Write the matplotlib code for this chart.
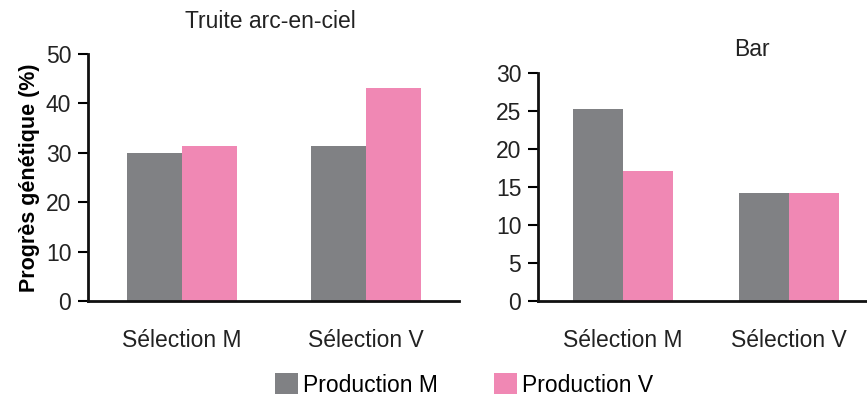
import matplotlib
matplotlib.use("Agg")
import matplotlib.pyplot as plt
import numpy as np

plt.rcParams['font.family'] = ['Liberation Sans', 'DejaVu Sans']

categories = ["Sélection M", "Sélection V"]
series_names = ["Production M", "Production V"]
truite_prod_m = [29.9, 31.3]
truite_prod_v = [31.3, 43.2]
bar_prod_m = [25.2, 14.2]
bar_prod_v = [17.1, 14.2]

gray = "#808184"
pink = "#F088B4"
txt = "#222222"
FS = 16.5

W, H = 867, 408
fig = plt.figure(figsize=(W / 100, H / 100), dpi=100)

def px_axes(x0, y0, x1, y1):
    return fig.add_axes([x0 / W, 1 - y1 / H, (x1 - x0) / W, (y1 - y0) / H])

def style(ax, ylim, yticks, xlim):
    ax.set_xlim(*xlim)
    ax.set_ylim(*ylim)
    ax.set_yticks(yticks)
    ax.set_xticks(range(len(categories)))
    ax.set_xticklabels(categories, fontsize=FS, color=txt)
    for s in ["top", "right"]:
        ax.spines[s].set_visible(False)
    for s in ["left", "bottom"]:
        ax.spines[s].set_linewidth(2)
        ax.spines[s].set_color("#111111")
    ax.tick_params(axis="y", length=7, width=1.5, labelsize=FS, pad=5, labelcolor=txt)
    ax.tick_params(axis="x", length=0, pad=20)

bw = 0.3
x = np.arange(len(categories))

ax1 = px_axes(88, 54, 459, 301)
ax1.bar(x - bw / 2, truite_prod_m, bw, color=gray, label=series_names[0])
ax1.bar(x + bw / 2, truite_prod_v, bw, color=pink, label=series_names[1])
style(ax1, (0, 50), range(0, 51, 10), (-0.514, 1.51))
ax1.set_ylabel("Progrès génétique (%)", fontsize=15.5, fontweight="bold", labelpad=4)

ax2 = px_axes(538, 73, 867, 301)
ax2.bar(x - bw / 2, bar_prod_m, bw, color=gray)
ax2.bar(x + bw / 2, bar_prod_v, bw, color=pink)
style(ax2, (0, 30), range(0, 31, 5), (-0.512, 1.47))

fig.text(270 / W, 1 - 22 / H, "Truite arc-en-ciel", ha="center", va="center", fontsize=FS, color=txt)
fig.text(752 / W, 1 - 50 / H, "Bar", ha="center", va="center", fontsize=FS, color=txt)

handles, labels = ax1.get_legend_handles_labels()
fig.legend(handles, labels, loc="center", bbox_to_anchor=(464 / W, 1 - 385 / H), ncol=2,
           frameon=False, fontsize=FS, handlelength=1.0, handleheight=1.0,
           handletextpad=0.22, columnspacing=2.45)

fig.savefig("out.png", dpi=100)
